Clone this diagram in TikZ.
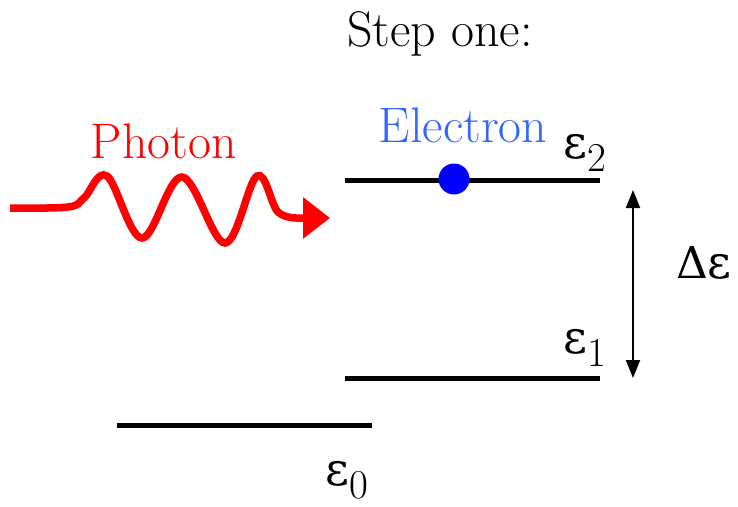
\documentclass[tikz,border=0pt]{standalone}
\usepackage{fontspec}
\newfontfamily\grk{DejaVu Serif}
\usetikzlibrary{arrows.meta}
\definecolor{photonred}{RGB}{255,0,0}
\definecolor{electronblue}{RGB}{0,0,255}
\definecolor{labelblue}{RGB}{51,102,255}
\newcommand{\eps}{{\grk\fontsize{46}{56}\selectfont ε}}
\newcommand{\dlt}{{\grk\fontsize{44}{56}\selectfont Δ}}
\newcommand{\epslev}[1]{\eps\raisebox{-13pt}{\fontsize{41}{41}\selectfont #1}}
\begin{document}
\begin{tikzpicture}[x=1pt,y=-1pt,
  lbl/.style={inner sep=0pt,anchor=base,font=\fontsize{50}{60}\selectfont},
  level/.style={line width=5pt,black},
  photon/.style={line width=7.5pt,photonred,-{Triangle[length=27pt,width=40pt]}},
  gap/.style={line width=2pt,{Triangle[length=18pt,width=14pt]}-{Triangle[length=18pt,width=14pt]}}]
\useasboundingbox (0,0) rectangle (738,506);
% labels
\node[lbl] (step) at (440,46) {Step one:};
\node[lbl,text=photonred] (photon) at (164,158) {Photon};
\node[lbl,text=labelblue] (electron) at (463,142) {Electron};
\node[lbl,anchor=base west] (e2) at (563,158) {\epslev{2}};
\node[lbl,anchor=base west] (e1) at (563,353) {\epslev{1}};
\node[lbl,anchor=base west] (e0) at (325,485) {\epslev{0}};
\node[lbl,anchor=base west] (de) at (676,278) {\dlt\eps};
% levels
\coordinate (l2a) at (345,180); \coordinate (l2b) at (600,180);
\coordinate (l1a) at (345,378); \coordinate (l1b) at (600,378);
\coordinate (l0a) at (117,425); \coordinate (l0b) at (372,425);
\draw[level] (l2a) -- (l2b);
\draw[level] (l1a) -- (l1b);
\draw[level] (l0a) -- (l0b);
% electron
\node[circle,fill=electronblue,minimum size=31pt,inner sep=0pt] (dot) at (454,179) {};
% energy gap arrow
\coordinate (gtop) at (633,190);
\coordinate (gbot) at (633,378);
\draw[gap] (gtop) -- (gbot);
% photon wave
\coordinate (ptip) at (330,218);
\draw[photon] plot[smooth,tension=0.6] coordinates {(10,208) (68,207) (84,198) (107,176) (142,238) (182,177) (225,243) (257,176) (278,212) (300,218)} -- (ptip);
\end{tikzpicture}
\end{document}
